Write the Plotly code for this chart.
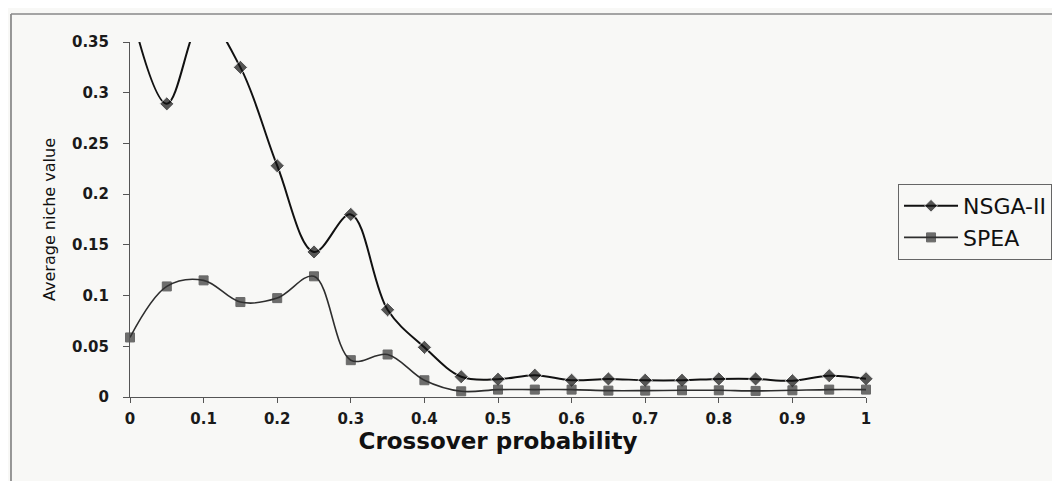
import plotly.graph_objects as go

# crossover probability (x) and average niche values
crossover = [0, 0.05, 0.1, 0.15, 0.2, 0.25, 0.3, 0.35, 0.4, 0.45, 0.5,
             0.55, 0.6, 0.65, 0.7, 0.75, 0.8, 0.85, 0.9, 0.95, 1]
nsga2 = [0.385, 0.289, 0.375, 0.325, 0.228, 0.143, 0.180, 0.086, 0.049, 0.020, 0.0175,
         0.0215, 0.0165, 0.0178, 0.0165, 0.0165, 0.0178, 0.0178, 0.016, 0.021, 0.018]
spea = [0.0587, 0.109, 0.115, 0.0936, 0.0975, 0.119, 0.0363, 0.0419, 0.0165, 0.0056, 0.0073,
        0.0073, 0.0073, 0.0063, 0.0063, 0.0066, 0.0066, 0.006, 0.0066, 0.0073, 0.0073]

x_ticks = [0, 0.1, 0.2, 0.3, 0.4, 0.5, 0.6, 0.7, 0.8, 0.9, 1]
x_ticktext = ["0", "0.1", "0.2", "0.3", "0.4", "0.5", "0.6", "0.7", "0.8", "0.9", "1"]
y_ticks = [0, 0.05, 0.1, 0.15, 0.2, 0.25, 0.3, 0.35]
y_ticktext = ["0", "0.05", "0.1", "0.15", "0.2", "0.25", "0.3", "0.35"]

Y_MAX = 0.35
bg = "#f8f8f6"
tick_font = dict(family="DejaVu Sans", size=15, color="#1a1a1a", weight="bold")

# hide markers that fall above the visible y range (line is clipped there)
def sizes(vals, s):
    return [s if v <= Y_MAX else 0 for v in vals]

fig = go.Figure()
fig.add_trace(go.Scatter(
    x=crossover, y=nsga2, name="NSGA-II", mode="lines+markers",
    line=dict(color="#111111", width=2, shape="spline", smoothing=1),
    marker=dict(symbol="diamond", size=sizes(nsga2, 11), color="#111111"),
    cliponaxis=False,
))
fig.add_trace(go.Scatter(
    x=crossover, y=spea, name="SPEA", mode="lines+markers",
    line=dict(color="#2e2e2e", width=1.6, shape="spline", smoothing=1),
    marker=dict(symbol="square", size=sizes(spea, 9), color="#333333"),
    cliponaxis=False,
))

fig.update_layout(
    width=1060, height=481,
    margin=dict(l=122, r=202, t=34, b=92),
    paper_bgcolor=bg, plot_bgcolor=bg,
    showlegend=True,
    legend=dict(
        x=1.0435, y=0.6, xanchor="left", yanchor="top",
        font=dict(family="DejaVu Sans", size=22, color="#111111"),
        bordercolor="#666666", borderwidth=1, bgcolor=bg,
        itemwidth=54, tracegroupgap=0,
    ),
    xaxis=dict(
        range=[0, 1], tickvals=x_ticks, ticktext=x_ticktext,
        showgrid=False, zeroline=False, showline=True, linecolor="#555555", linewidth=1,
        ticks="outside", ticklen=5, tickcolor="#555555", tickfont=tick_font,
        ticklabelstandoff=3,
        title=dict(text="<b>Crossover probability</b>",
                   font=dict(family="DejaVu Sans", size=23, color="#111111"), standoff=4),
    ),
    yaxis=dict(
        range=[0, Y_MAX], tickvals=y_ticks, ticktext=y_ticktext,
        showgrid=False, zeroline=False, showline=True, linecolor="#555555", linewidth=1,
        ticks="outside", ticklen=6, tickcolor="#555555", tickfont=tick_font,
        ticklabelstandoff=11,
        title=dict(text="Average niche value",
                   font=dict(family="DejaVu Sans", size=16, color="#111111"), standoff=12),
    ),
    shapes=[
        # outer chart-area frame (left and top edges)
        dict(type="line", xref="paper", yref="paper", x0=-0.1617, x1=-0.1617, y0=-0.3, y1=1.079,
             line=dict(color="#777777", width=1.5)),
        dict(type="line", xref="paper", yref="paper", x0=-0.1617, x1=1.5, y0=1.079, y1=1.079,
             line=dict(color="#888888", width=1.5)),
    ],
)

fig.write_html("out.html")
